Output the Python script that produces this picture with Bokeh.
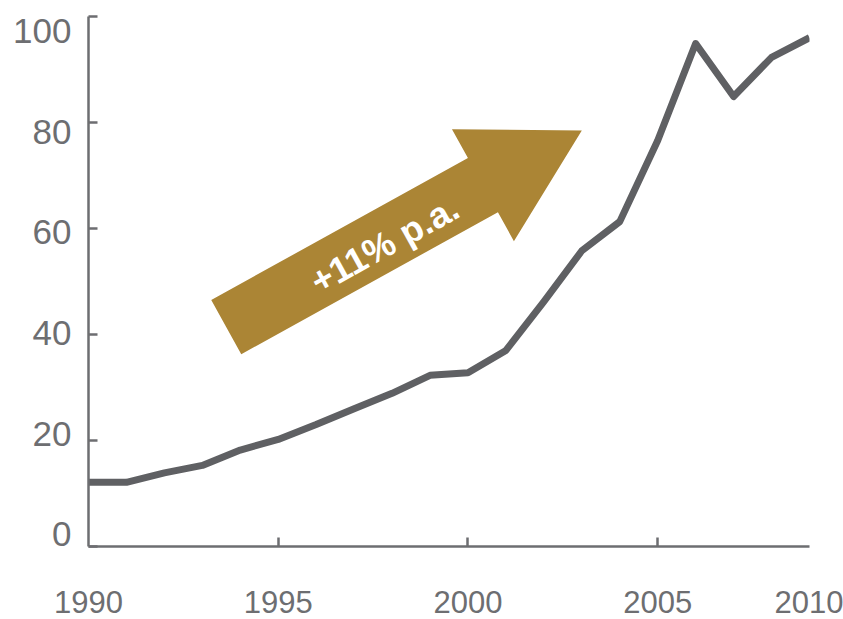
import math
from bokeh.plotting import figure
from bokeh.models import Range1d, Label, FixedTicker, LinearAxis
from bokeh.embed import file_html
from bokeh.resources import INLINE

# ---- data ----
years = [1990, 1991, 1992, 1993, 1994, 1995, 1996, 1997, 1998, 1999,
         2000, 2001, 2002, 2003, 2004, 2005, 2006, 2007, 2008, 2009]
values = [12.1, 12.1, 13.9, 15.3, 18.2, 20.2, 23.0, 26.0, 28.9, 32.3,
          32.8, 37.0, 46.2, 55.8, 61.3, 76.6, 94.9, 84.9, 92.3, 96.0]

y_ticks = [0, 20, 40, 60, 80, 100]
x_ticks = [1995, 2000, 2005]
x_label_pos = [1990, 1995, 2000, 2005, 2009]
x_label_overrides = {2009: "2010"}

arrow_text = "+11% p.a."
arrow_tail = (1993.63, 41.4)   # data coords of arrow tail centre
arrow_tip = (2003.0, 78.5)     # data coords of arrow tip
arrow_text_pos = (1997.8, 57.0)

# ---- styles ----
GRAY = "#5F6063"
AXIS_GRAY = "#6D6E71"
GOLD = "#AB8535"
FONT = "Liberation Sans"

W, H = 843, 619
BL, BR, BT, BB = 88, 34, 16, 73
X0, X1 = years[0], years[-1]
Y0, Y1 = 0, 100

p = figure(width=W, height=H, x_range=Range1d(X0, X1), y_range=Range1d(Y0, Y1),
           output_backend="svg", toolbar_location=None,
           min_border_left=BL, min_border_right=BR, min_border_top=BT, min_border_bottom=BB)
p.outline_line_color = None
p.grid.visible = False
p.background_fill_color = "white"
p.border_fill_color = "white"

for ax in (p.xaxis[0], p.yaxis[0]):
    ax.axis_line_color = AXIS_GRAY
    ax.axis_line_width = 2.5
    ax.major_tick_line_color = None
    ax.minor_tick_line_color = AXIS_GRAY
    ax.minor_tick_line_width = 2.5
    ax.minor_tick_in = 9
    ax.minor_tick_out = 0
    ax.major_tick_in = 0
    ax.major_tick_out = 0

# x axis: labels from the axis, tick marks drawn as minor ticks
p.xaxis.ticker = FixedTicker(ticks=x_label_pos, minor_ticks=x_ticks)
p.xaxis.major_label_overrides = x_label_overrides
p.xaxis.major_label_text_font = FONT
p.xaxis.major_label_text_font_size = "31px"
p.xaxis.major_label_text_color = AXIS_GRAY
p.xaxis.major_label_standoff = 44

# y axis: line + ticks only
p.yaxis.ticker = FixedTicker(ticks=[], minor_ticks=y_ticks)
p.yaxis.major_label_text_font_size = "0px"
p.yaxis.major_label_standoff = 0

# y tick labels on a label-only axis (slightly compressed spacing as in the original)
p.extra_y_ranges = {"labels": Range1d(-2.4, 102.9)}
lab = LinearAxis(y_range_name="labels", ticker=FixedTicker(ticks=y_ticks),
                 axis_line_color=None, major_tick_line_color=None,
                 minor_tick_line_color=None, major_tick_in=0, major_tick_out=0,
                 major_label_standoff=17, major_label_text_font=FONT,
                 major_label_text_font_size="35px", major_label_text_color=AXIS_GRAY)
p.add_layout(lab, "left")

# data line
p.line(years, values, line_color=GRAY, line_width=7, line_join="round")

# arrow (built in pixel space from tail/tip)
fw = W - BL - BR
fh = H - BT - BB
sx = fw / (X1 - X0)
sy = fh / (Y1 - Y0)
tx, ty = (arrow_tail[0] - X0) * sx, (arrow_tail[1] - Y0) * sy
hx, hy = (arrow_tip[0] - X0) * sx, (arrow_tip[1] - Y0) * sy
L = math.hypot(hx - tx, hy - ty)
dx, dy = (hx - tx) / L, (hy - ty) / L
nx, ny = -dy, dx
body_w, head_w, head_l = 62, 128, 113
neck_x, neck_y = tx + dx * (L - head_l), ty + dy * (L - head_l)
pts = [
    (tx + nx * body_w / 2, ty + ny * body_w / 2),
    (neck_x + nx * body_w / 2, neck_y + ny * body_w / 2),
    (neck_x + nx * head_w / 2, neck_y + ny * head_w / 2),
    (hx, hy),
    (neck_x - nx * head_w / 2, neck_y - ny * head_w / 2),
    (neck_x - nx * body_w / 2, neck_y - ny * body_w / 2),
    (tx - nx * body_w / 2, ty - ny * body_w / 2),
]
p.patch([X0 + a / sx for a, b in pts], [Y0 + b / sy for a, b in pts],
        fill_color=GOLD, line_color=None)

angle = math.atan2(dy, dx)
p.add_layout(Label(x=arrow_text_pos[0], y=arrow_text_pos[1], text=arrow_text,
                   angle=angle, angle_units="rad", text_align="center",
                   text_baseline="middle", text_color="white",
                   text_font=FONT, text_font_style="bold", text_font_size="36px"))

open("out.html", "w").write(file_html(p, INLINE))
